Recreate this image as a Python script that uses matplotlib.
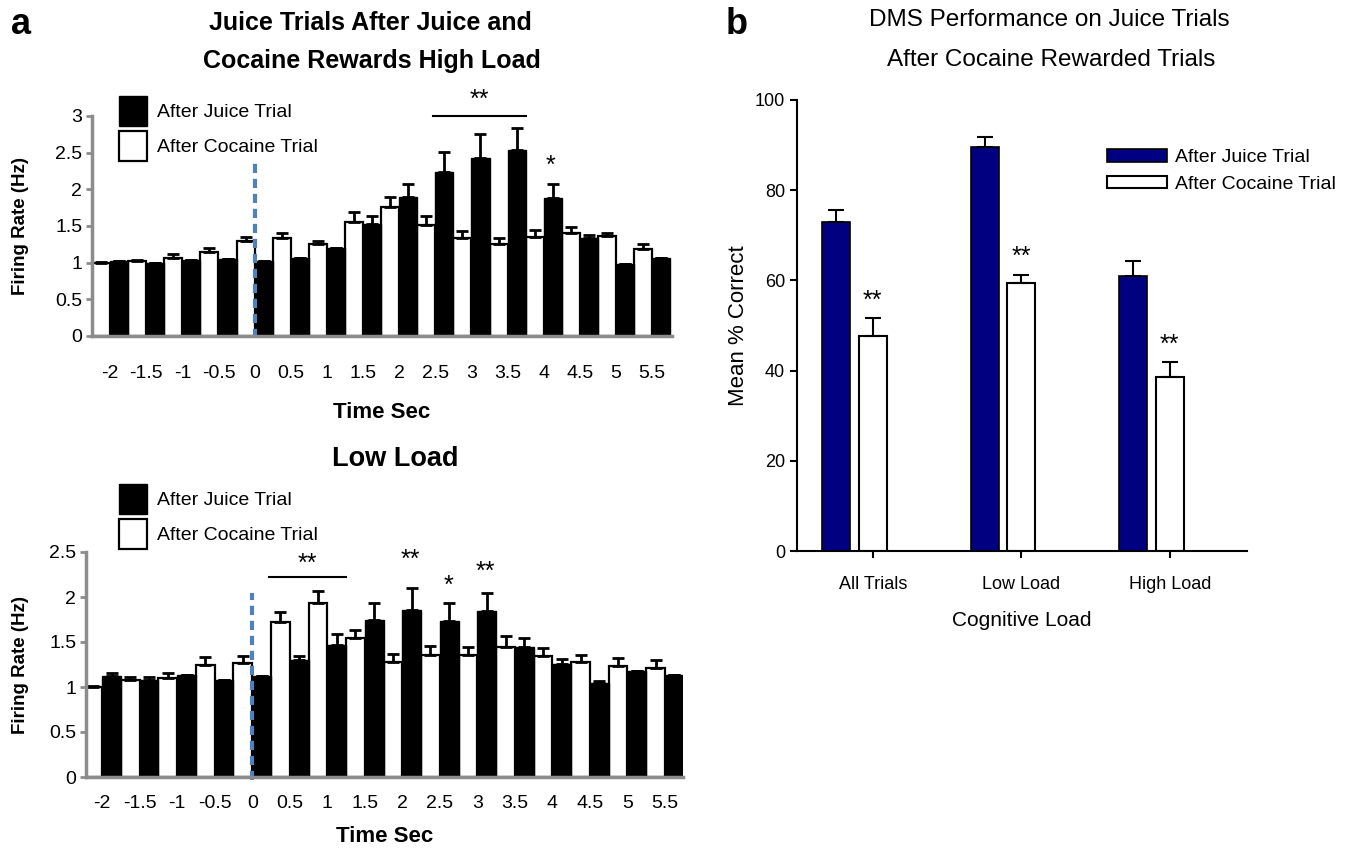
import numpy as np
import matplotlib
matplotlib.use('Agg')
import matplotlib.pyplot as plt
from matplotlib.patches import Patch

plt.rcParams['font.family'] = ['Liberation Sans', 'DejaVu Sans']

# ---------------- data ----------------
time_labels = ['-2', '-1.5', '-1', '-0.5', '0', '0.5', '1', '1.5', '2', '2.5',
               '3', '3.5', '4', '4.5', '5', '5.5']

high_cocaine = [0.99, 1.02, 1.07, 1.14, 1.30, 1.34, 1.26, 1.55, 1.76, 1.51,
                1.34, 1.26, 1.35, 1.41, 1.36, 1.19]
high_cocaine_err = [0.02, 0.02, 0.05, 0.06, 0.05, 0.06, 0.04, 0.14, 0.13, 0.12,
                    0.09, 0.08, 0.10, 0.07, 0.05, 0.07]
high_juice = [1.02, 1.00, 1.03, 1.05, 1.02, 1.06, 1.20, 1.53, 1.90, 2.24,
              2.43, 2.54, 1.88, 1.33, 0.98, 1.07]
high_juice_err = [0.0, 0.0, 0.0, 0.0, 0.0, 0.0, 0.0, 0.11, 0.17, 0.27,
                  0.32, 0.30, 0.19, 0.05, 0.0, 0.0]

low_cocaine = [1.00, 1.08, 1.10, 1.24, 1.27, 1.72, 1.93, 1.55, 1.28, 1.36,
               1.36, 1.45, 1.34, 1.28, 1.23, 1.21]
low_cocaine_err = [0.01, 0.03, 0.06, 0.09, 0.07, 0.11, 0.14, 0.08, 0.09, 0.10,
                   0.09, 0.12, 0.09, 0.08, 0.09, 0.09]
low_juice = [1.12, 1.08, 1.13, 1.08, 1.12, 1.30, 1.47, 1.75, 1.86, 1.73,
             1.84, 1.44, 1.26, 1.04, 1.18, 1.13]
low_juice_err = [0.04, 0.03, 0.0, 0.0, 0.0, 0.04, 0.12, 0.18, 0.24, 0.20,
                 0.21, 0.10, 0.05, 0.03, 0.0, 0.0]

dms_categories = ['All Trials', 'Low Load', 'High Load']
dms_juice = [73.0, 89.6, 60.9]
dms_juice_err = [2.7, 2.1, 3.5]
dms_cocaine = [47.7, 59.4, 38.5]
dms_cocaine_err = [3.9, 1.9, 3.4]

W, H = 1352, 849
fig = plt.figure(figsize=(W / 100, H / 100), dpi=100)


def px_axes(left, right, top, bottom):
    return fig.add_axes([left / W, 1 - bottom / H, (right - left) / W, (bottom - top) / H])


GRAY = '#8c8c8c'
BLUE = '#4f81bd'


def firing_panel(ax, coc, coc_err, jui, jui_err, ylim, yticks, yticklabels, xlim, xpad):
    x = np.arange(len(time_labels))
    ekw = dict(ecolor='black', elinewidth=2, capsize=4, capthick=2, zorder=3)
    ax.bar(x - 0.25, coc, width=0.5, color='white', edgecolor='black', linewidth=1.6,
           yerr=[np.zeros(len(coc)), coc_err], error_kw=ekw, zorder=2)
    ax.bar(x + 0.25, jui, width=0.5, color='black', edgecolor='black', linewidth=1.0,
           yerr=[np.zeros(len(jui)), jui_err], error_kw=ekw, zorder=2)
    ax.set_xlim(*xlim)
    ax.set_ylim(*ylim)
    ax.set_yticks(yticks)
    ax.set_yticklabels(yticklabels)
    ax.set_xticks(x)
    ax.set_xticklabels(time_labels)
    for s in ['top', 'right']:
        ax.spines[s].set_visible(False)
    for s in ['left', 'bottom']:
        ax.spines[s].set_color(GRAY)
        ax.spines[s].set_linewidth(2.5)
        ax.spines[s].set_zorder(5)
    ax.tick_params(axis='y', direction='out', length=4, width=2, color=GRAY,
                   labelsize=14, pad=3)
    ax.tick_params(axis='x', length=0, labelsize=14, pad=xpad)
    ax.set_facecolor('none')
    return x


def panel_legend(y_top_px):
    fig.legend(handles=[Patch(facecolor='black', edgecolor='black'),
                        Patch(facecolor='white', edgecolor='black', linewidth=1.6)],
               labels=['After Juice Trial', 'After Cocaine Trial'],
               loc='upper left', bbox_to_anchor=(119 / W, 1 - y_top_px / H), frameon=False,
               fontsize=14, handlelength=1.45, handleheight=2.0, labelspacing=0.26,
               handletextpad=0.5, borderpad=0, borderaxespad=0)


# ---------------- panel a, top ----------------
ax1 = px_axes(92, 672, 116, 336)
x = firing_panel(ax1, high_cocaine, high_cocaine_err, high_juice, high_juice_err,
                 (0, 3), np.arange(0, 3.01, 0.5), ['0', '0.5', '1', '1.5', '2', '2.5', '3'],
                 (-0.5, 15.55), 21)
i0 = time_labels.index('0')
ax1.plot([i0, i0], [-0.03, 2.4], color=BLUE, lw=3, dashes=(2.2, 1.4), zorder=4, clip_on=False)
ax1.set_xlabel('Time Sec', fontsize=16, fontweight='bold', labelpad=14)
ax1.set_ylabel('Firing Rate (Hz)', fontsize=13.5, fontweight='bold')
ax1.yaxis.set_label_coords(-0.108, 0.5)
# significance
i25, i35, i4 = time_labels.index('2.5'), time_labels.index('3.5'), time_labels.index('4')
ax1.plot([i25 - 0.05, i35 + 0.5], [3.0, 3.0], color='black', lw=1.5, clip_on=False)
ax1.text((i25 + i35 + 0.45) / 2, 3.06, '**', ha='center', va='bottom', fontsize=18, clip_on=False)
ax1.text(i4 + 0.2, high_juice[i4] + high_juice_err[i4] + 0.08, '*', ha='center', va='bottom',
         fontsize=18)
panel_legend(96)

# ---------------- panel a, bottom ----------------
ax2 = px_axes(86, 683, 552, 777)
firing_panel(ax2, low_cocaine, low_cocaine_err, low_juice, low_juice_err,
             (0, 2.5), np.arange(0, 2.51, 0.5), ['0', '0.5', '1', '1.5', '2', '2.5'],
             (-0.43, 15.48), 13)
ax2.plot([i0, i0], [-0.03, 2.04], color=BLUE, lw=3, dashes=(2.2, 1.4), zorder=4, clip_on=False)
ax2.set_xlabel('Time Sec', fontsize=16, fontweight='bold', labelpad=10)
ax2.set_ylabel('Firing Rate (Hz)', fontsize=13.5, fontweight='bold')
ax2.yaxis.set_label_coords(-0.095, 0.5)
i05, i15 = time_labels.index('0.5'), time_labels.index('1.5')
ax2.plot([i05 - 0.55, i15 - 0.5], [2.22, 2.22], color='black', lw=1.5, clip_on=False)
ax2.text((i05 - 0.55 + i15 - 0.5) / 2, 2.24, '**', ha='center', va='bottom', fontsize=18)
for lab, mk, off in [('2', '**', 0.18), ('2.5', '*', 0.06), ('3', '**', 0.1)]:
    k = time_labels.index(lab)
    ax2.text(k + 0.22, low_juice[k] + low_juice_err[k] + off, mk, ha='center', va='bottom',
             fontsize=18)
panel_legend(484)

# titles panel a
fig.text(370 / W, 1 - 23 / H, 'Juice Trials After Juice and', ha='center', va='center',
         fontsize=18, fontweight='bold')
fig.text(372 / W, 1 - 61 / H, 'Cocaine Rewards High Load', ha='center', va='center',
         fontsize=18, fontweight='bold')
fig.text(395 / W, 1 - 459 / H, 'Low Load', ha='center', va='center',
         fontsize=19.5, fontweight='bold')

# ---------------- panel b ----------------
ax3 = px_axes(797, 1247, 100, 551)
xc = np.arange(len(dms_categories))
ekw3 = dict(ecolor='black', elinewidth=1.5, capsize=6, capthick=1.5)
ax3.bar(xc - 0.245, dms_juice, width=0.19, color='#000080', edgecolor='black', linewidth=1.2,
        yerr=[np.zeros(3), dms_juice_err], error_kw=ekw3, label='After Juice Trial')
ax3.bar(xc, dms_cocaine, width=0.19, color='white', edgecolor='black', linewidth=1.5,
        yerr=[np.zeros(3), dms_cocaine_err], error_kw=ekw3, label='After Cocaine Trial')
for i in range(3):
    ax3.text(xc[i], dms_cocaine[i] + dms_cocaine_err[i] + 1.2, '**', ha='center',
             va='bottom', fontsize=18)
ax3.set_xlim(-0.51, 2.52)
ax3.set_ylim(0, 100)
ax3.set_yticks(np.arange(0, 101, 20))
ax3.set_xticks(xc)
ax3.set_xticklabels(dms_categories)
for s in ['top', 'right']:
    ax3.spines[s].set_visible(False)
for s in ['left', 'bottom']:
    ax3.spines[s].set_linewidth(1.5)
ax3.tick_params(axis='both', direction='out', length=5, width=1.5, labelsize=13)
ax3.tick_params(axis='x', pad=13)
ax3.set_xlabel('Cognitive Load', fontsize=15, labelpad=13)
ax3.set_ylabel('Mean % Correct', fontsize=16)
ax3.yaxis.set_label_coords(-0.107, 0.5)
fig.legend(handles=[Patch(facecolor='#000080', edgecolor='black', linewidth=1.2),
                    Patch(facecolor='white', edgecolor='black', linewidth=1.5)],
           labels=['After Juice Trial', 'After Cocaine Trial'],
           loc='upper left', bbox_to_anchor=(1107 / W, 1 - 149 / H), frameon=False,
           fontsize=14, handlelength=3.1, handleheight=0.62, labelspacing=0.5,
           handletextpad=0.4, borderpad=0, borderaxespad=0)

fig.text(1049 / W, 1 - 20 / H, 'DMS Performance on Juice Trials', ha='center', va='center',
         fontsize=17.5)
fig.text(1051 / W, 1 - 60 / H, 'After Cocaine Rewarded Trials', ha='center', va='center',
         fontsize=17.5)

fig.text(11 / W, 1 - 25 / H, 'a', ha='left', va='center', fontsize=26, fontweight='bold')
fig.text(726 / W, 1 - 25 / H, 'b', ha='left', va='center', fontsize=26, fontweight='bold')

fig.savefig('out.png', dpi=100)
